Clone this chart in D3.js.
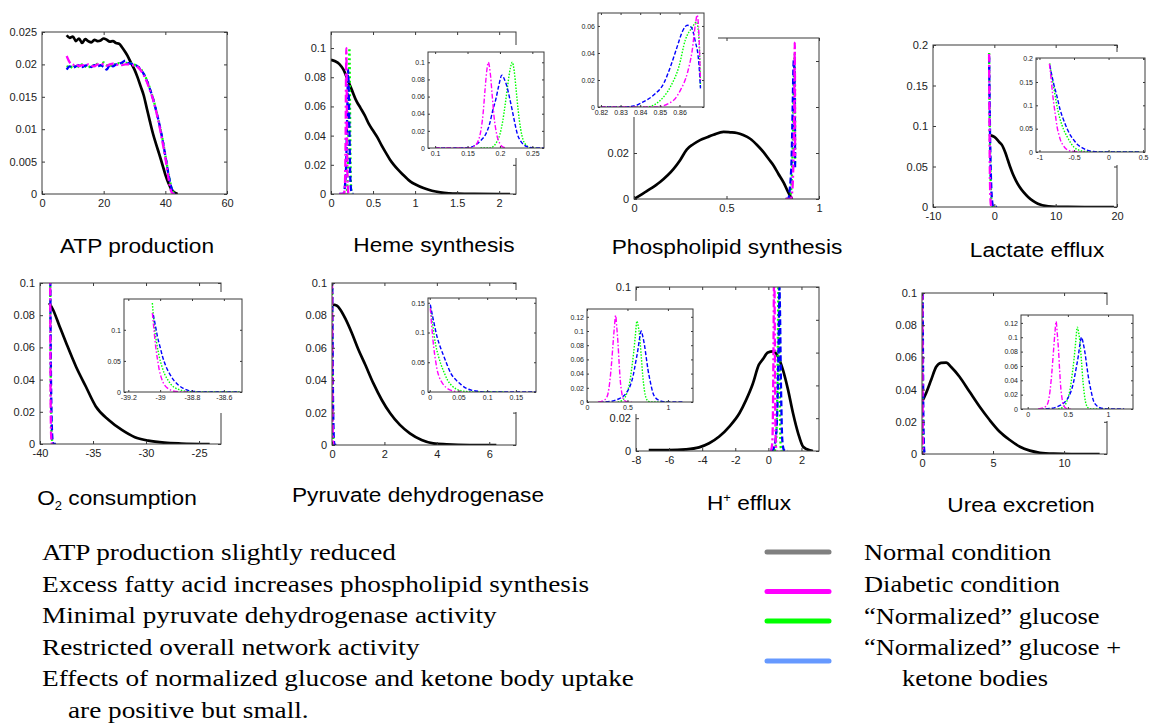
<!DOCTYPE html>
<html>
<head>
<meta charset="utf-8">
<script src="https://cdn.jsdelivr.net/npm/d3@7"></script>
<style>
  body { margin: 0; background: #fff; }
  svg { display: block; }
</style>
</head>
<body>
<script>
// ---------- ATP production ----------
const atpXTicks = [0, 20, 40, 60];
const atpYTicks = [0, 0.005, 0.01, 0.015, 0.02, 0.025];
const atpX = [8,9,10,11,12,13,14,15,16,17,18,19,20,21,22,23,24,25,26,27,28,29,30,31,32,33,34,35,36,37,38,39,40,41,42,43,44];
const atpNormal   = [0.0245,0.0241,0.0243,0.0236,0.0240,0.0233,0.0239,0.0236,0.0234,0.0238,0.0236,0.0237,0.0240,0.0238,0.0235,0.0236,0.0233,0.0232,0.0226,0.0219,0.0211,0.0201,0.0192,0.0180,0.0166,0.0152,0.0132,0.0112,0.0093,0.0077,0.0062,0.0046,0.0030,0.0017,0.0007,0.0002,0];
const atpDiabetic = [0.0213,0.0203,0.0199,0.0201,0.0197,0.0199,0.0198,0.0200,0.0198,0.0197,0.0200,0.0199,0.0201,0.0198,0.0200,0.0201,0.0199,0.0200,0.0199,0.0200,0.0200,0.0199,0.0198,0.0196,0.0191,0.0183,0.0173,0.0160,0.0146,0.0128,0.0107,0.0082,0.0056,0.0025,0.0003,0,null];
const atpGlucose  = [0.0196,0.0198,0.0194,0.0199,0.0196,0.0200,0.0197,0.0195,0.0199,0.0197,0.0201,0.0198,0.0203,0.0199,0.0197,0.0201,0.0199,0.0202,0.0200,0.0203,0.0201,0.0202,0.0200,0.0197,0.0193,0.0186,0.0176,0.0163,0.0148,0.0130,0.0110,0.0087,0.0060,0.0032,0.0010,0,null];
const atpKetone   = [0.0192,0.0197,0.0195,0.0197,0.0199,0.0196,0.0198,0.0199,0.0196,0.0199,0.0197,0.0199,0.0196,0.0192,0.0199,0.0197,0.0200,0.0201,0.0203,0.0206,0.0202,0.0201,0.0199,0.0197,0.0192,0.0185,0.0175,0.0162,0.0147,0.0129,0.0109,0.0086,0.0059,0.0031,0.0009,0,null];

// ---------- Heme synthesis ----------
const hemeXTicks = [0, 0.5, 1, 1.5, 2];
const hemeYTicks = [0, 0.02, 0.04, 0.06, 0.08, 0.1];
const hemeInsetXTicks = [0.1, 0.15, 0.2, 0.25];
const hemeInsetYTicks = [0, 0.02, 0.04, 0.06, 0.08, 0.1];
const hemeNormal = [[0,0.092],[0.05,0.091],[0.1,0.089],[0.15,0.085],[0.2,0.078],[0.25,0.071],[0.3,0.064],[0.35,0.059],[0.4,0.054],[0.45,0.048],[0.5,0.0435],[0.55,0.039],[0.6,0.0335],[0.65,0.0285],[0.7,0.0237],[0.75,0.0198],[0.8,0.0165],[0.85,0.0135],[0.9,0.0108],[0.95,0.0083],[1.0,0.0067],[1.1,0.0041],[1.2,0.0022],[1.3,0.0011],[1.4,0.0005],[1.5,0.0002],[1.7,0.00005],[2.0,0],[2.13,0]];
const hemeDiabetic = [[0.1,0],[0.14,0],[0.155,0],[0.16,0.002],[0.165,0.006],[0.17,0.018],[0.174,0.04],[0.177,0.068],[0.18,0.092],[0.182,0.1],[0.185,0.088],[0.188,0.062],[0.191,0.036],[0.195,0.016],[0.2,0.005],[0.205,0.001],[0.21,0]];
const hemeGlucose = [[0.17,0],[0.185,0],[0.19,0.002],[0.195,0.007],[0.2,0.016],[0.204,0.03],[0.208,0.05],[0.212,0.073],[0.216,0.093],[0.219,0.1],[0.222,0.09],[0.225,0.068],[0.228,0.045],[0.232,0.022],[0.236,0.009],[0.241,0.003],[0.246,0],[0.255,0]];
const hemeKetone = [[0.1,0],[0.14,0],[0.155,0.001],[0.165,0.005],[0.172,0.01],[0.178,0.016],[0.184,0.028],[0.189,0.044],[0.194,0.058],[0.198,0.072],[0.203,0.085],[0.207,0.08],[0.211,0.071],[0.215,0.058],[0.219,0.044],[0.223,0.029],[0.227,0.016],[0.232,0.008],[0.238,0.003],[0.245,0.001],[0.255,0],[0.268,0]];

// ---------- Phospholipid synthesis ----------
const phosXTicks = [0, 0.5, 1];
const phosYTicks = [0, 0.02, 0.04, 0.06];
const phosInsetXTicks = [0.82, 0.83, 0.84, 0.85, 0.86];
const phosInsetYTicks = [0, 0.02, 0.04, 0.06];
const phosNormal = [[0,0],[0.069,0.0034],[0.141,0.0074],[0.213,0.013],[0.25,0.017],[0.285,0.0215],[0.32,0.0238],[0.357,0.0256],[0.4,0.027],[0.43,0.0279],[0.484,0.0292],[0.52,0.029],[0.556,0.0287],[0.59,0.0278],[0.628,0.0262],[0.665,0.0235],[0.7,0.0204],[0.73,0.0172],[0.755,0.0145],[0.78,0.011],[0.809,0.0071],[0.83,0.0035],[0.845,0.0012],[0.855,0]];
const phosDiabetic = [[0.82,0],[0.848,0],[0.857,0.005],[0.8605,0.0125],[0.864,0.025],[0.8665,0.042],[0.8682,0.062],[0.869,0.068],[0.8699,0.054],[0.8707,0.0187]];
const phosGlucose = [[0.82,0],[0.843,0],[0.8503,0.005],[0.8554,0.015],[0.8597,0.0298],[0.863,0.0497],[0.8665,0.059],[0.8687,0.063],[0.87,0.049],[0.8707,0.015]];
const phosKetone = [[0.82,0],[0.83,0],[0.8367,0.0007],[0.8418,0.004],[0.847,0.009],[0.852,0.0175],[0.8554,0.0298],[0.8588,0.0445],[0.8614,0.0556],[0.864,0.0605],[0.866,0.059],[0.868,0.049],[0.8699,0.032],[0.8707,0.0138]];

// ---------- Lactate efflux ----------
const lacXTicks = [-10, 0, 10, 20];
const lacYTicks = [0, 0.05, 0.1, 0.15, 0.2];
const lacInsetXTicks = [-1, -0.5, 0, 0.5];
const lacInsetYTicks = [0, 0.05, 0.1, 0.15, 0.2];
const lacNormal = [[-0.82,0.0887],[0,0.0866],[0.82,0.08],[1.2,0.077],[1.54,0.072],[1.85,0.066],[2.2,0.058],[2.6,0.049],[3.0,0.041],[3.5,0.033],[4.1,0.025],[4.8,0.018],[5.5,0.0124],[6.3,0.0075],[7.1,0.004],[8.8,0.0008],[10,0.0002],[12,0.00005],[15,0],[19.5,0]];
const lacDiabetic = [[-0.856,0.189],[-0.83,0.155],[-0.81,0.125],[-0.793,0.104],[-0.77,0.08],[-0.745,0.054],[-0.72,0.038],[-0.697,0.026],[-0.66,0.015],[-0.625,0.008],[-0.57,0.003],[-0.505,0.0014],[-0.45,0.0003],[-0.35,0]];
const lacGlucose = [[-0.851,0.19],[-0.82,0.16],[-0.795,0.14],[-0.77,0.118],[-0.735,0.09],[-0.697,0.068],[-0.65,0.048],[-0.6,0.033],[-0.55,0.02],[-0.505,0.011],[-0.43,0.004],[-0.36,0.0014],[-0.25,0.0002],[-0.1,0],[0.45,0]];
const lacKetone = [[-0.851,0.186],[-0.8,0.15],[-0.745,0.118],[-0.7,0.09],[-0.649,0.068],[-0.6,0.05],[-0.553,0.036],[-0.5,0.025],[-0.457,0.017],[-0.38,0.009],[-0.312,0.004],[-0.22,0.0012],[-0.12,0.0002],[0,0],[0.45,0]];

// ---------- O2 consumption ----------
const o2XTicks = [-40, -35, -30, -25];
const o2YTicks = [0, 0.02, 0.04, 0.06, 0.08, 0.1];
const o2InsetXTicks = [-39.2, -39, -38.8, -38.6];
const o2InsetYTicks = [0, 0.05, 0.1];
const o2Normal = [[-39.136,0.0876],[-38.77,0.0834],[-38.15,0.073],[-37.53,0.0627],[-36.6,0.048],[-35.68,0.0357],[-34.75,0.0235],[-33.52,0.0149],[-32.28,0.0087],[-31.05,0.0042],[-29.8,0.0021],[-28.27,0.0008],[-26.7,0.0003],[-24,0]];
const o2Diabetic = [[-39.049,0.127],[-39.038,0.098],[-39.028,0.073],[-39.017,0.053],[-39.006,0.036],[-38.99,0.021],[-38.974,0.0118],[-38.95,0.0055],[-38.931,0.0027],[-38.9,0.0008],[-38.87,0.0002],[-38.83,0]];
const o2Glucose = [[-39.049,0.143],[-39.034,0.1],[-39.02,0.076],[-39.006,0.057],[-38.99,0.042],[-38.974,0.03],[-38.95,0.019],[-38.931,0.0118],[-38.9,0.006],[-38.867,0.0027],[-38.83,0.001],[-38.78,0.0002],[-38.7,0],[-38.5,0]];
const o2Ketone = [[-39.043,0.124],[-39.03,0.107],[-39.017,0.089],[-39.0,0.072],[-38.985,0.057],[-38.965,0.042],[-38.942,0.03],[-38.915,0.019],[-38.888,0.0118],[-38.855,0.006],[-38.824,0.0027],[-38.79,0.001],[-38.74,0.0002],[-38.7,0],[-38.5,0]];

// ---------- Pyruvate dehydrogenase ----------
const pdhXTicks = [0, 2, 4, 6];
const pdhYTicks = [0, 0.02, 0.04, 0.06, 0.08, 0.1];
const pdhInsetXTicks = [0, 0.05, 0.1, 0.15];
const pdhInsetYTicks = [0, 0.05, 0.1, 0.15];
const pdhNormal = [[0.038,0.0866],[0.19,0.086],[0.32,0.0835],[0.51,0.078],[0.76,0.069],[1.01,0.0588],[1.27,0.0495],[1.58,0.038],[1.9,0.0278],[2.22,0.0196],[2.59,0.0124],[2.97,0.0072],[3.42,0.0031],[3.86,0.001],[4.37,0.0004],[5.25,0],[6.27,0]];
const pdhDiabetic = [[0.001,0.141],[0.004,0.105],[0.007,0.075],[0.01,0.054],[0.013,0.037],[0.017,0.024],[0.022,0.015],[0.028,0.008],[0.034,0.004],[0.041,0.0015],[0.049,0],[0.055,0]];
const pdhGlucose = [[0.001,0.144],[0.005,0.115],[0.01,0.081],[0.015,0.061],[0.019,0.048],[0.025,0.033],[0.031,0.02],[0.038,0.011],[0.046,0.005],[0.055,0.002],[0.067,0.0005],[0.08,0],[0.13,0]];
const pdhKetone = [[0.001,0.147],[0.007,0.118],[0.013,0.092],[0.019,0.074],[0.025,0.059],[0.031,0.044],[0.037,0.031],[0.046,0.02],[0.055,0.012],[0.064,0.006],[0.073,0.003],[0.085,0.001],[0.096,0],[0.185,0]];

// ---------- H+ efflux ----------
const hXTicks = [-8, -6, -4, -2, 0, 2];
const hYTicks = [0, 0.02, 0.04, 0.06, 0.08, 0.1];
const hInsetXTicks = [0, 0.5, 1];
const hInsetYTicks = [0, 0.02, 0.04, 0.06, 0.08, 0.1, 0.12];
const hNormal = [[-7.23,0.0006],[-6.01,0.0006],[-5.0,0.001],[-4.19,0.0022],[-3.58,0.0047],[-2.97,0.0088],[-2.36,0.0149],[-1.75,0.023],[-1.35,0.031],[-0.94,0.041],[-0.58,0.0525],[-0.33,0.056],[-0.03,0.06],[0.28,0.0607],[0.58,0.0576],[0.88,0.0495],[1.19,0.0373],[1.49,0.023],[1.8,0.0108],[2.1,0.0026],[2.5,0.0004],[2.7,0]];
const hDiabetic = [[0.136,0],[0.2,0.002],[0.239,0.0056],[0.26,0.012],[0.28,0.027],[0.3,0.05],[0.32,0.079],[0.338,0.105],[0.354,0.122],[0.368,0.105],[0.383,0.083],[0.397,0.055],[0.41,0.032],[0.427,0.015],[0.444,0.0056],[0.48,0.001],[0.527,0],[0.55,0]];
const hGlucose = [[0.38,0],[0.43,0.002],[0.465,0.0056],[0.5,0.015],[0.527,0.027],[0.55,0.045],[0.576,0.069],[0.597,0.093],[0.617,0.114],[0.633,0.107],[0.65,0.093],[0.67,0.065],[0.69,0.036],[0.71,0.016],[0.73,0.0056],[0.76,0.001],[0.79,0],[1.02,0]];
const hKetone = [[0.156,0],[0.3,0.001],[0.362,0.003],[0.42,0.006],[0.486,0.0127],[0.53,0.022],[0.568,0.036],[0.6,0.055],[0.63,0.074],[0.65,0.09],[0.67,0.1],[0.69,0.092],[0.712,0.079],[0.733,0.062],[0.753,0.046],[0.785,0.027],[0.815,0.0127],[0.855,0.005],[0.897,0.002],[0.95,0.0005],[1.05,0],[1.185,0]];

// ---------- Urea excretion ----------
const ureaXTicks = [0, 5, 10];
const ureaYTicks = [0, 0.02, 0.04, 0.06, 0.08, 0.1];
const ureaInsetXTicks = [0, 0.5, 1];
const ureaInsetYTicks = [0, 0.02, 0.04, 0.06, 0.08, 0.1, 0.12];
const ureaNormal = [[0,0.0324],[0.28,0.0376],[0.64,0.0459],[0.99,0.054],[1.34,0.0566],[1.7,0.0568],[2.05,0.054],[2.64,0.048],[3.35,0.0386],[4.06,0.0293],[4.76,0.0211],[5.47,0.0138],[6.18,0.0087],[6.89,0.0045],[7.59,0.0021],[8.3,0.0008],[9.25,0.0002],[10.5,0],[12.5,0]];
// full-range spikes hugging zero on the main axes
const ureaMainDiabetic = [[0,0.16],[0.02,0.12],[0.04,0.05],[0.06,0.01],[0.08,0]];
const ureaMainGlucose = [[0,0.15],[0.03,0.11],[0.05,0.05],[0.08,0.01],[0.1,0]];
const ureaMainKetone = [[0.01,0.15],[0.04,0.11],[0.07,0.06],[0.1,0.02],[0.15,0.003],[0.2,0]];
// zoomed view of the same conditions
const ureaDiabetic = [[0.13,0],[0.2,0.002],[0.24,0.0056],[0.26,0.012],[0.28,0.027],[0.3,0.05],[0.32,0.079],[0.338,0.105],[0.354,0.122],[0.368,0.105],[0.383,0.083],[0.397,0.055],[0.41,0.032],[0.427,0.015],[0.444,0.0056],[0.48,0.001],[0.527,0],[0.55,0]];
const ureaGlucose = [[0.38,0],[0.43,0.002],[0.465,0.0056],[0.5,0.015],[0.527,0.027],[0.55,0.045],[0.576,0.069],[0.597,0.093],[0.617,0.114],[0.633,0.107],[0.65,0.093],[0.67,0.065],[0.69,0.036],[0.71,0.016],[0.73,0.0056],[0.76,0.001],[0.79,0],[1.02,0]];
const ureaKetone = [[0.15,0],[0.3,0.001],[0.362,0.003],[0.42,0.006],[0.486,0.0127],[0.53,0.022],[0.568,0.036],[0.6,0.055],[0.63,0.074],[0.65,0.09],[0.67,0.1],[0.69,0.092],[0.712,0.079],[0.733,0.062],[0.753,0.046],[0.785,0.027],[0.815,0.0127],[0.855,0.005],[0.897,0.002],[0.95,0.0005],[1.05,0],[1.2,0]];

// ---------- text ----------
const notes = [
  "ATP production slightly reduced",
  "Excess fatty acid increases phospholipid synthesis",
  "Minimal pyruvate dehydrogenase activity",
  "Restricted overall network activity",
  "Effects of normalized glucose and ketone body uptake",
  "are positive but small."
];
const legendLabels = ["Normal condition", "Diabetic condition", "\u201cNormalized\u201d glucose", "\u201cNormalized\u201d glucose +"];
const legendColors = ["#808080", "#ff00ff", "#00ff00", "#6699ff"];

// ---------- drawing ----------
const W = 1149, H = 724;
const SANS = "'Liberation Sans', Arial, sans-serif";
const SERIF = "'Liberation Serif', 'Times New Roman', Times, serif";
const svg = d3.select("body").append("svg").attr("width", W).attr("height", H);
svg.append("rect").attr("width", W).attr("height", H).attr("fill", "#fff");

const seriesColors = ["#000000", "#ff00ff", "#00ff00", "#0000ff"];
const mainDash = [null, "8,3,2,3", "2,2.5", "6,3"];
const insetDash = [null, "5,2,1.5,2", "1.5,1.5", "4,2"];
const drawOrder = [0, 2, 3, 1];
let clipId = 0;

const pairs = (xs, ys) => xs.map((x, i) => [x, ys[i]]).filter(d => d[1] !== null);

function axes(g, box, xDom, yDom, xTicks, yTicks, series, opt, hidden) {
  const [x0, y0, x1, y1] = box;
  const x = d3.scaleLinear().domain(xDom).range([x0, x1]);
  const y = d3.scaleLinear().domain(yDom).range([y1, y0]);
  const id = "clip" + (clipId++);
  g.append("clipPath").attr("id", id).append("rect")
    .attr("x", x0).attr("y", y0).attr("width", x1 - x0).attr("height", y1 - y0);

  const plot = g.append("g").attr("clip-path", `url(#${id})`);
  const line = d3.line().x(d => x(d[0])).y(d => y(d[1])).curve(d3.curveMonotoneX);
  drawOrder.forEach(i => {
    const data = series[i];
    if (!data) return;
    plot.append("path").datum(data)
      .attr("d", line)
      .attr("fill", "none")
      .attr("stroke", seriesColors[i])
      .attr("stroke-width", i === 0 ? opt.blackWidth : opt.lineWidth)
      .attr("stroke-dasharray", opt.dash[i])
      .attr("stroke-linejoin", "round");
  });

  // boxed axes: ticks point inward on all four sides
  const tl = opt.tick;
  const fmt = v => String(v);
  const axisColor = "#3a3a3a";
  const ax = g.append("g");
  ax.append("g").attr("transform", `translate(0,${y1})`)
    .call(d3.axisBottom(x).tickValues(xTicks).tickSize(-tl).tickPadding(opt.pad + tl).tickFormat(fmt));
  ax.append("g").attr("transform", `translate(0,${y0})`)
    .call(d3.axisTop(x).tickValues(xTicks).tickSize(-tl).tickFormat(""));
  const left = ax.append("g").attr("transform", `translate(${x0},0)`)
    .call(d3.axisLeft(y).tickValues(yTicks).tickSize(-tl).tickPadding(opt.pad + tl).tickFormat(fmt));
  ax.append("g").attr("transform", `translate(${x1},0)`)
    .call(d3.axisRight(y).tickValues(yTicks).tickSize(-tl).tickFormat(""));
  // y labels that sit fully under an overlaid inset are not drawn
  if (hidden) {
    left.selectAll(".tick").filter(v => y(v) < hidden[3] - 6 && y(v) > hidden[1] + 4 && x0 > hidden[0])
      .select("text").remove();
  }
  ax.selectAll(".domain").remove();
  ax.selectAll(".tick line").attr("stroke", axisColor).attr("stroke-width", 1);
  ax.selectAll(".tick text")
    .style("font-family", SANS)
    .attr("font-size", opt.fontSize).attr("fill", "#222");
  ax.append("rect")
    .attr("x", x0).attr("y", y0).attr("width", x1 - x0).attr("height", y1 - y0)
    .attr("fill", "none").attr("stroke", axisColor).attr("stroke-width", 1);
  return { x, y };
}

const mainOpt = { tick: 3, pad: 2, fontSize: 11, lineWidth: 2.3, blackWidth: 2.7, dash: mainDash };
const insetOpt = { tick: 2, pad: 1, fontSize: 7, lineWidth: 1.4, blackWidth: 1.4, dash: insetDash };

const panels = [
  { title: ["ATP production"], tx: 137, ty: 253, box: [42, 32, 227, 194], xDom: [0, 60], yDom: [0, 0.025],
    xTicks: atpXTicks, yTicks: atpYTicks,
    series: [pairs(atpX, atpNormal), pairs(atpX, atpDiabetic), pairs(atpX, atpGlucose), pairs(atpX, atpKetone)] },
  { title: ["Heme synthesis"], tx: 434, ty: 252, box: [331, 32, 516, 194], xDom: [0, 2.2], yDom: [0, 0.111],
    xTicks: hemeXTicks, yTicks: hemeYTicks,
    series: [hemeNormal, hemeDiabetic, hemeGlucose, hemeKetone],
    cover: [412, 45, 552, 158],
    inset: { box: [428, 52, 544, 148], xDom: [0.089, 0.268], yDom: [0, 0.112], xTicks: hemeInsetXTicks, yTicks: hemeInsetYTicks } },
  { title: ["Phospholipid synthesis"], tx: 727, ty: 254, box: [634, 38, 819, 199], xDom: [0, 1], yDom: [0, 0.07],
    xTicks: phosXTicks, yTicks: phosYTicks,
    series: [phosNormal, phosDiabetic, phosGlucose, phosKetone],
    cover: [578, 0, 718, 117],
    inset: { box: [598, 13, 704, 107], xDom: [0.8185, 0.8725], yDom: [0, 0.0696], xTicks: phosInsetXTicks, yTicks: phosInsetYTicks } },
  { title: ["Lactate efflux"], tx: 1037, ty: 257, box: [933, 45, 1117, 207], xDom: [-10, 20], yDom: [0, 0.2],
    xTicks: lacXTicks, yTicks: lacYTicks,
    series: [lacNormal, lacDiabetic, lacGlucose, lacKetone],
    cover: [1018, 52, 1149, 165],
    inset: { box: [1036, 58, 1145, 152], xDom: [-1.05, 0.527], yDom: [0, 0.2014], xTicks: lacInsetXTicks, yTicks: lacInsetYTicks } },
  { title: ["O", "2", " consumption"], sub: true, tx: 117, ty: 505, box: [40, 283, 221, 444], xDom: [-40, -22.93], yDom: [0, 0.1],
    xTicks: o2XTicks, yTicks: o2YTicks,
    series: [o2Normal, o2Diabetic, o2Glucose, o2Ketone],
    cover: [108, 292, 250, 413],
    inset: { box: [124, 299, 242, 392], xDom: [-39.227, -38.486], yDom: [0, 0.1495], xTicks: o2InsetXTicks, yTicks: o2InsetYTicks } },
  { title: ["Pyruvate dehydrogenase"], tx: 418, ty: 502, box: [332, 283, 516, 445], xDom: [0, 7.02], yDom: [0, 0.1],
    xTicks: pdhXTicks, yTicks: pdhYTicks,
    series: [pdhNormal, pdhDiabetic, pdhGlucose, pdhKetone],
    cover: [412, 290, 545, 412],
    inset: { box: [428, 298, 536, 392], xDom: [-0.003, 0.185], yDom: [0, 0.158], xTicks: pdhInsetXTicks, yTicks: pdhInsetYTicks } },
  { title: ["H", "+", " efflux"], sup: true, tx: 749, ty: 510, box: [636, 287, 819, 451], xDom: [-8, 3.06], yDom: [0, 0.1],
    xTicks: hXTicks, yTicks: hYTicks,
    series: [hNormal, hDiabetic, hGlucose, hKetone],
    cover: [568, 301, 700, 414],
    inset: { box: [587, 309, 693, 402], xDom: [0, 1.31], yDom: [0, 0.131], xTicks: hInsetXTicks, yTicks: hInsetYTicks } },
  { title: ["Urea excretion"], tx: 1021, ty: 512, box: [922, 293, 1107, 454], xDom: [0, 13.02], yDom: [0, 0.1],
    xTicks: ureaXTicks, yTicks: ureaYTicks,
    series: [ureaNormal, ureaMainDiabetic, ureaMainGlucose, ureaMainKetone],
    insetSeries: [null, ureaDiabetic, ureaGlucose, ureaKetone],
    cover: [1005, 305, 1140, 421],
    inset: { box: [1021, 315, 1133, 409], xDom: [-0.083, 1.31], yDom: [0, 0.131], xTicks: ureaInsetXTicks, yTicks: ureaInsetYTicks } }
];

panels.forEach(p => {
  const g = svg.append("g");
  axes(g, p.box, p.xDom, p.yDom, p.xTicks, p.yTicks, p.series, mainOpt, p.cover);
  if (p.inset) {
    const c = p.cover;
    g.append("rect").attr("x", c[0]).attr("y", c[1]).attr("width", c[2] - c[0]).attr("height", c[3] - c[1]).attr("fill", "#fff");
    const ig = g.append("g");
    const b = p.inset.box;
    const iSeries = p.insetSeries || p.series.map((s, i) => i === 0 ? null : s);
    axes(ig, b, p.inset.xDom, p.inset.yDom, p.inset.xTicks, p.inset.yTicks, iSeries, insetOpt);
  }
  // panel title
  const t = svg.append("text")
    .attr("transform", `translate(${p.tx},${p.ty}) scale(1.08,1)`)
    .attr("text-anchor", "middle")
    .style("font-family", SANS)
    .attr("font-size", 21).attr("fill", "#000");
  t.append("tspan").text(p.title[0]);
  if (p.title.length > 1) {
    t.append("tspan").text(p.title[1]).attr("font-size", 12)
      .attr("dy", p.sub ? 5 : -8);
    t.append("tspan").text(p.title[2]).attr("dy", p.sub ? -5 : 8);
  }
});

// notes on the left
const noteBase = [560, 591.5, 623, 654.5, 686, 717.5];
notes.forEach((s, i) => {
  svg.append("text")
    .attr("transform", `translate(${i === 5 ? 68 : 42},${noteBase[i]}) scale(1.17,1)`)
    .style("font-family", SERIF).attr("font-size", 23.3).attr("fill", "#000")
    .text(s);
});

// legend
const legendLineY = [552, 591.5, 621, 661];
const legendTextY = [560, 591.5, 623.5, 655];
legendColors.forEach((c, i) => {
  svg.append("line").attr("x1", 767).attr("x2", 829)
    .attr("y1", legendLineY[i]).attr("y2", legendLineY[i])
    .attr("stroke", c).attr("stroke-width", 5).attr("stroke-linecap", "round");
  svg.append("text")
    .attr("transform", `translate(864,${legendTextY[i]}) scale(1.15,1)`)
    .style("font-family", SERIF).attr("font-size", 23).attr("fill", "#000")
    .text(legendLabels[i]);
});
svg.append("text")
  .attr("transform", `translate(902,686) scale(1.15,1)`)
  .style("font-family", SERIF).attr("font-size", 23).attr("fill", "#000")
  .text("ketone bodies");
</script>
</body>
</html>
